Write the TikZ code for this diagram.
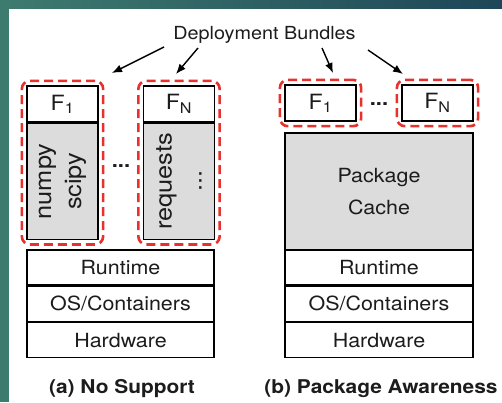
\documentclass[tikz,border=0pt]{standalone}
\usepackage{fontspec}
\setmainfont[FakeStretch=1.1]{TeX Gyre Heros}
\usetikzlibrary{arrows.meta,fit,positioning}
\definecolor{tealA}{HTML}{3E7B6F}
\definecolor{tealB}{HTML}{1E4658}
\definecolor{bndred}{HTML}{E8302C}
\definecolor{pkggray}{HTML}{DCDCDC}
\definecolor{txt}{HTML}{1C1C1C}
\tikzset{block/.style = {draw=black, fill=white, line width=1.3pt, rectangle, inner sep=0pt, text=txt, font=\fontsize{19.5}{22}\selectfont},
         hblock/.style={block, minimum width=71pt, minimum height=36pt, font=\fontsize{21}{24}\selectfont},
         lblock/.style={block, fill=pkggray, minimum width=71pt, minimum height=116pt},
         sblock/.style={block, minimum width=187pt, minimum height=35pt},
         rotlbl/.style={rotate=90, align=center, text=txt, font=\fontsize{23}{30}\selectfont},
         bundle/.style={draw=bndred, line width=2.6pt, dash pattern=on 9pt off 5pt, rounded corners=8pt, inner sep=4.5pt},
         dots/.style={text=txt, inner sep=0pt, font=\bfseries\fontsize{20}{22}\selectfont},
         arr/.style={-{Latex[length=10pt,width=8pt]}, line width=1.4pt}}
\begin{document}
\begin{tikzpicture}[x=1pt,y=-1pt]
        \useasboundingbox (0,0) rectangle (502,402);
        \fill[white] (0,0) rectangle (502,402);
        \shade[left color=tealA, right color=tealB] (0,0) rectangle (502,8);
        \fill[tealA] (0,0) rectangle (9,402);
        % (a) no support
        \node[hblock](f1a)at(62.5,104){F\textsubscript{1}};
        \node[lblock,below=0pt of f1a](pa){};
        \node[rotlbl](pkga)at(pa){numpy\\scipy};
        \node[hblock](fna)at(179,104){F\textsubscript{N}};
        \node[lblock,below=0pt of fna](pn){};
        \node[rotlbl](pkgn)at(pn){requests\\...};
        \node[dots](dota)at(121,166){...};
        \node[bundle,fit=(f1a)(pa)](b1a){};
        \node[bundle,fit=(fna)(pn)](bna){};
        \node[sblock](rta)at(120.5,267.5){Runtime};
        \node[sblock,below=0pt of rta](osa){OS/Containers};
        \node[sblock,below=0pt of osa](hwa){Hardware};
        \node[text=txt,font=\bfseries\fontsize{19}{22}\selectfont](capa)at(122,389){(a) No Support};
        % (b) package awareness
        \node[hblock](f1b)at(320.5,103){F\textsubscript{1}};
        \node[hblock](fnb)at(437.5,103){F\textsubscript{N}};
        \node[dots](dotb)at(379,104){...};
        \node[bundle,fit=(f1b)](b1b){};
        \node[bundle,fit=(fnb)](bnb){};
        \node[block,fill=pkggray,minimum width=188pt,minimum height=117pt,align=center,font=\fontsize{19.5}{32}\selectfont](cache)at(379,191.5){Package\\Cache};
        \node[sblock,minimum width=188pt](rtb)at(379,267.5){Runtime};
        \node[sblock,minimum width=188pt,below=0pt of rtb](osb){OS/Containers};
        \node[sblock,minimum width=188pt,below=0pt of osb](hwb){Hardware};
        \node[text=txt,font=\bfseries\fontsize{19}{22}\selectfont](capb)at(381,389){(b) Package Awareness};
        % bundles label
        \node[text=txt,font=\fontsize{18}{22}\selectfont](lbl)at(264.5,35){Deployment Bundles};
        \coordinate(s1)at(164,47); \coordinate(e1)at(112,73);
        \coordinate(s2)at(198,48); \coordinate(e2)at(176,74);
        \coordinate(s3)at(322,48); \coordinate(e3)at(333,73);
        \coordinate(s4)at(368,50); \coordinate(e4)at(403,74);
        \draw[arr](s1)--(e1);
        \draw[arr](s2)--(e2);
        \draw[arr](s3)--(e3);
        \draw[arr](s4)--(e4);
    \end{tikzpicture}
\end{document}
